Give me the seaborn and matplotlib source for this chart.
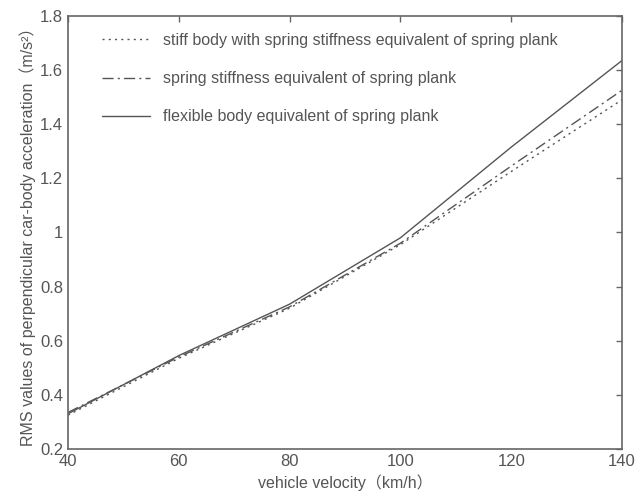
import matplotlib
matplotlib.use("Agg")
import matplotlib.pyplot as plt
import seaborn as sns
import pandas as pd

velocity = [40, 60, 80, 100, 120, 140]
stiff_body = [0.325, 0.535, 0.72, 0.955, 1.225, 1.49]
spring_stiffness = [0.335, 0.54, 0.725, 0.96, 1.245, 1.525]
flexible_body = [0.33, 0.545, 0.735, 0.98, 1.315, 1.635]
series_names = [
    "stiff body with spring stiffness equivalent of spring plank",
    "spring stiffness equivalent of spring plank",
    "flexible body equivalent of spring plank",
]
x_ticks = [40, 60, 80, 100, 120, 140]
y_ticks = [0.2, 0.4, 0.6, 0.8, 1, 1.2, 1.4, 1.6, 1.8]
y_tick_labels = ["0.2", "0.4", "0.6", "0.8", "1", "1.2", "1.4", "1.6", "1.8"]

rows = []
for name, vals in zip(series_names, [stiff_body, spring_stiffness, flexible_body]):
    for v, y in zip(velocity, vals):
        rows.append({"velocity": v, "rms": y, "series": name})
df = pd.DataFrame(rows)

sns.set_style("white")
plt.rcParams["font.family"] = ["Liberation Sans", "Noto Sans CJK SC", "DejaVu Sans"]

fig = plt.figure(figsize=(6.36, 4.95), dpi=100)
ax = fig.add_axes([0.107, 0.093, 0.871, 0.875])

dashes = {
    series_names[0]: (1.5, 3),
    series_names[1]: (8, 3, 1.5, 3),
    series_names[2]: "",
}
sns.lineplot(data=df, x="velocity", y="rms", style="series", dashes=dashes,
             color="#555555", linewidth=1.0, ax=ax, legend=True)

ax.set_xlim(40, 140)
ax.set_ylim(0.2, 1.8)
ax.set_xticks(x_ticks)
ax.set_yticks(y_ticks)
ax.set_yticklabels(y_tick_labels)
for s in ax.spines.values():
    s.set_visible(True)
    s.set_color("#666666")
    s.set_linewidth(1.2)
ax.tick_params(direction="in", length=4, width=1, color="#666666",
               top=True, right=True, labelsize=12, labelcolor="#555555")
ax.set_xlabel("vehicle velocity（km/h）", fontsize=11.5, color="#555555", labelpad=4)
ax.set_ylabel("RMS values of perpendicular car-body acceleration（m/s²）",
              fontsize=11.5, color="#555555", labelpad=3)

leg = ax.legend(loc="upper left", frameon=False, fontsize=11.5,
                handlelength=3.0, handletextpad=0.8, labelspacing=1.45,
                borderaxespad=0.0, bbox_to_anchor=(0.05, 0.975))
for t in leg.get_texts():
    t.set_color("#555555")

fig.savefig("out.png", dpi=100)
